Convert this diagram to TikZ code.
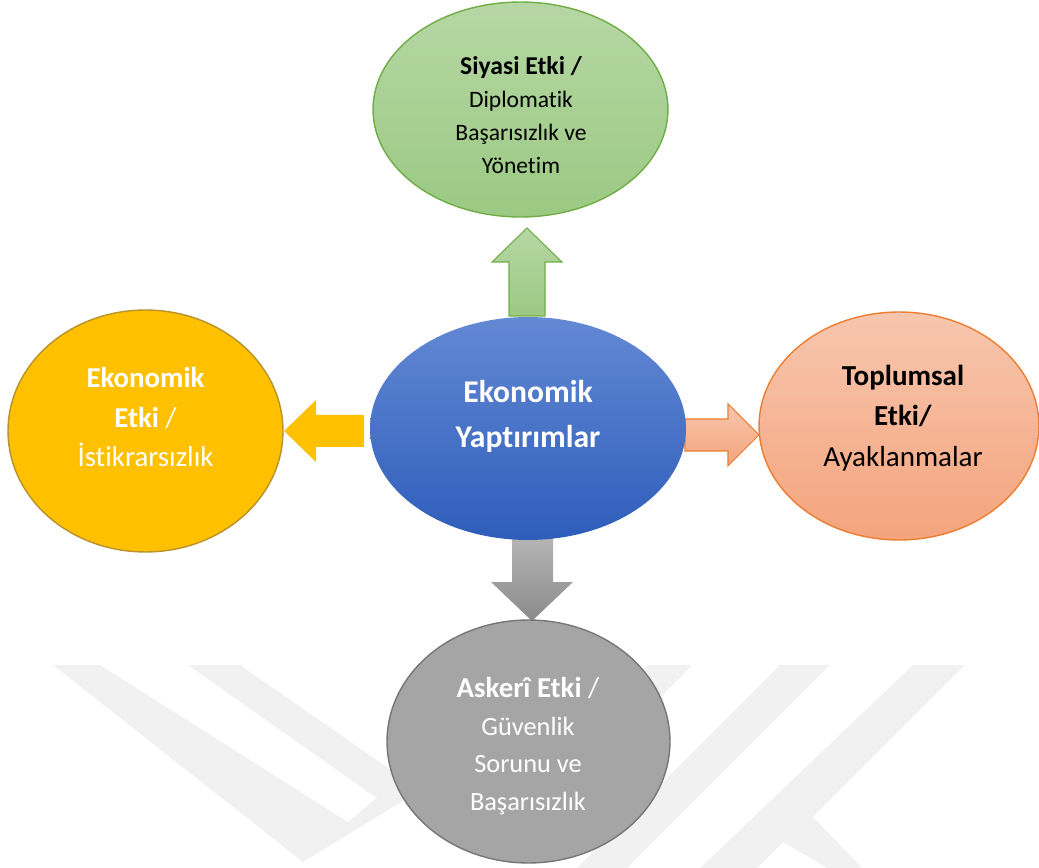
\documentclass[tikz,border=0pt]{standalone}
\usepackage{fontspec}
\setmainfont{Carlito}[Ligatures=NoCommon]
\usetikzlibrary{shapes.geometric}

\definecolor{grnlight}{HTML}{B6D7A4}
\definecolor{grndark}{HTML}{9BC983}
\definecolor{grnline}{HTML}{70AD47}
\definecolor{bluelight}{HTML}{6389D4}
\definecolor{bluedark}{HTML}{2E5DBA}
\definecolor{gold}{HTML}{FFC000}
\definecolor{goldline}{HTML}{B8922A}
\definecolor{salmonlight}{HTML}{F7C6AE}
\definecolor{salmondark}{HTML}{F4A47D}
\definecolor{salmonline}{HTML}{ED7D31}
\definecolor{greyfill}{HTML}{A5A5A5}
\definecolor{greyline}{HTML}{767676}
\definecolor{greylight}{HTML}{B5B5B5}
\definecolor{greydark}{HTML}{8B8B8B}
\definecolor{wmark}{HTML}{F1F1F1}

\begin{document}
\begin{tikzpicture}[
  x=0.02cm, y=-0.02cm,
  every node/.style={inner sep=0pt},
  bubble/.style={ellipse,line width=0.8pt},
  bubbletext/.style={align=center},
  blockarrow/.style={line width=0.6pt,line join=miter},
  ]
  \useasboundingbox (0,0) rectangle (1039,868);

  % faint watermark behind everything
  \fill[wmark] (53,665) -- (100,665) -- (348,822) -- (460,727) -- (470,760) -- (303,862) -- cycle;
  \fill[wmark] (188,665) -- (240,665) -- (420,790) -- (375,797) -- cycle;
  \fill[wmark] (648,665) -- (692,665) -- (560,800) -- (520,800) -- cycle;
  \fill[wmark] (780,665) -- (830,665) -- (627,868) -- (577,868) -- cycle;
  \fill[wmark] (913,665) -- (965,665) -- (813,817) -- (862,868) -- (827,868)
    -- (783,842) -- (757,868) -- (700,868) -- cycle;

  % block arrows (under the ellipses)
  \coordinate (up-tip) at (527,228);
  \coordinate (left-tip) at (284,431);
  \coordinate (right-tip) at (759,435);
  \coordinate (down-tip) at (532,621);
  \draw[blockarrow,draw=grnline,top color=grnlight,bottom color=grndark]
    (509,316) -- (509,262) -- (492,262) -- (up-tip) -- (562,262) -- (545,262) -- (545,316) -- cycle;
  \fill[gold]
    (364,415) -- (316,415) -- (316,400) -- (left-tip) -- (316,462) -- (316,447) -- (364,447) -- cycle;
  \draw[blockarrow,draw=salmonline,top color=salmonlight,bottom color=salmondark]
    (685,419) -- (728,419) -- (728,404) -- (right-tip) -- (728,466) -- (728,451) -- (685,451) -- cycle;
  \shade[top color=greylight,bottom color=greydark]
    (512,536) -- (512,582) -- (491,582) -- (down-tip) -- (573,582) -- (553,582) -- (553,536) -- cycle;

  % ellipses
  \node[bubble,draw=grnline,top color=grnlight,bottom color=grndark,
    minimum width=5.9cm,minimum height=4.3cm] (pol) at (520.5,109.5) {};
  \node[bubble,top color=bluelight,bottom color=bluedark,
    minimum width=6.32cm,minimum height=4.46cm] (core) at (528,428.5) {};
  \node[bubble,draw=goldline,fill=gold,
    minimum width=5.5cm,minimum height=4.84cm] (eco) at (145.5,431) {};
  \node[bubble,draw=salmonline,top color=salmonlight,bottom color=salmondark,
    minimum width=5.6cm,minimum height=4.56cm] (soc) at (899,426) {};
  \node[bubble,draw=greyline,fill=greyfill,
    minimum width=5.66cm,minimum height=4.86cm] (mil) at (528.5,741.5) {};

  % texts
  \node[bubbletext,font=\fontsize{13.4}{18.7}\selectfont] (pol-text) at (521,115)
    {{\fontsize{14.6}{18.7}\selectfont\bfseries Siyasi Etki /}\\ Diplomatik\\ Başarısızlık ve\\ Yönetim};
  \node[bubbletext,text=white,font=\fontsize{18}{25.5}\selectfont\bfseries] (core-text) at (528,416)
    {Ekonomik\\ Yaptırımlar};
  \node[bubbletext,text=white,font=\fontsize{16.4}{22.7}\selectfont] (eco-text) at (145.5,417)
    {\textbf{Ekonomik}\\ \textbf{Etki} /\\ İstikrarsızlık};
  \node[bubbletext,font=\fontsize{16.5}{23.2}\selectfont] (soc-text) at (903,418)
    {\textbf{Toplumsal}\\ \textbf{Etki/}\\ Ayaklanmalar};
  \node[bubbletext,text=white,font=\fontsize{15}{21.5}\selectfont] (mil-text) at (528,746)
    {{\fontsize{16.4}{21.5}\selectfont\textbf{Askerî Etki} /}\\ Güvenlik\\ Sorunu ve\\ Başarısızlık};
\end{tikzpicture}
\end{document}
